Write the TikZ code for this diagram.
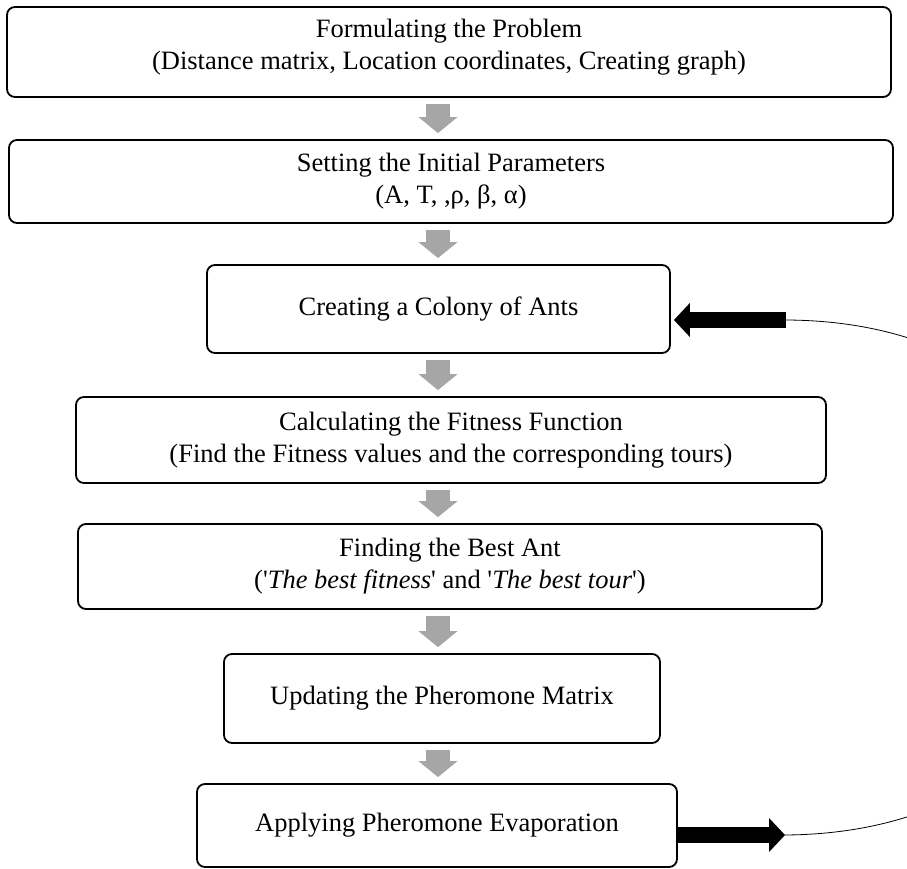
\documentclass[tikz,border=0pt]{standalone}
\usepackage{fontspec}
\setmainfont{Liberation Serif}
\usetikzlibrary{arrows.meta}

\definecolor{flowgray}{RGB}{166,166,166}

\tikzset{
    stage/.style={draw, line width=1.8pt, rounded corners=8pt, align=center,
        inner sep=0pt, font=\fontsize{26.5}{32}\selectfont},
    flow/.style={draw=flowgray, line width=24pt,
        -{Triangle[length=16pt, width=39pt, line width=0pt]},
        shorten <=6pt, shorten >=6pt},
    loopback/.style={draw=black, line width=16pt,
        -{Triangle[length=16pt, width=34pt, line width=0pt]}}
}

\begin{document}
\begin{tikzpicture}[x=1pt, y=-1pt]

    \useasboundingbox (0,0) rectangle (907,869);

    % Stages
    \node[stage, minimum width=884pt, minimum height=90pt, text depth=16pt] (b1) at (449,52)
        {Formulating the Problem\\(Distance matrix, Location coordinates, Creating graph)};
    \node[stage, minimum width=884pt, minimum height=83pt] (b2) at (451,181.5)
        {Setting the Initial Parameters\\(A, T, ,ρ, β, α)};
    \node[stage, minimum width=463pt, minimum height=88pt] (b3) at (438.5,309)
        {Creating a Colony of Ants};
    \node[stage, minimum width=750pt, minimum height=86pt] (b4) at (451,440)
        {Calculating the Fitness Function\\(Find the Fitness values and the corresponding tours)};
    \node[stage, minimum width=744pt, minimum height=85pt] (b5) at (450,566.5)
        {Finding the Best Ant\\(\textquotesingle\textit{The best fitness}\textquotesingle{} and \textquotesingle\textit{The best tour}\textquotesingle)};
    \node[stage, minimum width=436pt, minimum height=89pt] (b6) at (442,698.5)
        {Updating the Pheromone Matrix};
    \node[stage, minimum width=480pt, minimum height=83pt] (b7) at (437,825.5)
        {Applying Pheromone Evaporation};

    % Gray arrows down the column
    \coordinate (col) at (438,0);
    \draw[flow] (b1.south -| col) -- (b2.north -| col);
    \draw[flow] (b2.south -| col) -- (b3.north -| col);
    \draw[flow] (b3.south -| col) -- (b4.north -| col);
    \draw[flow] (b4.south -| col) -- (b5.north -| col);
    \draw[flow] (b5.south -| col) -- (b6.north -| col);
    \draw[flow] (b6.south -| col) -- (b7.north -| col);

    % Loop back to the colony
    \coordinate (ret) at (786,320);
    \coordinate (out) at (785,835);
    \draw[loopback] (b7.east |- out) -- (out);
    \draw[loopback, shorten >=3pt] (ret) -- (b3.east |- ret);
    \draw[line width=0.8pt] (out) .. controls (1200,832) and (1200,322) .. (ret);

\end{tikzpicture}
\end{document}
